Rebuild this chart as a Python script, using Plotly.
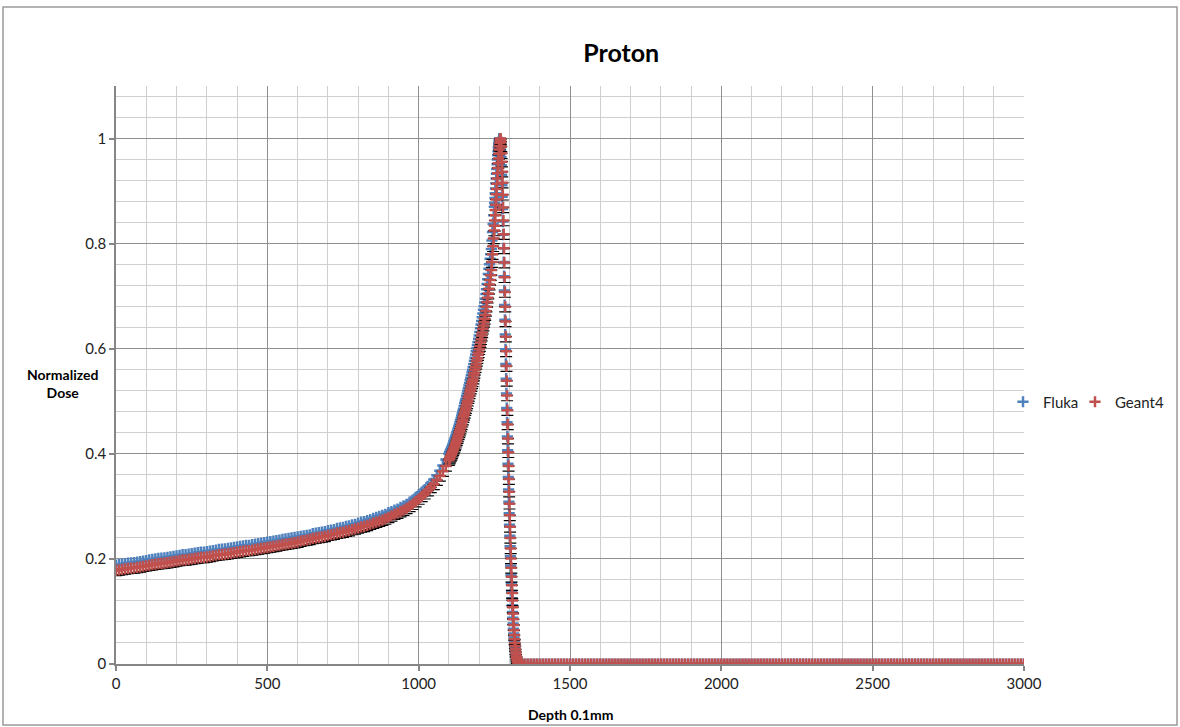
import plotly.graph_objects as go

# Depth sampling (units of 0.1 mm)
depth_rise = list(range(0, 1101, 10)) + list(range(1102, 1251, 2))
depth_peak = list(range(1251, 1331))
depth_tail = list(range(1340, 3001, 10))

# Normalized dose, Fluka
fluka_rise = [
    0.188, 0.189, 0.190, 0.191, 0.192, 0.1925, 0.193, 0.194, 0.195, 0.196,
    0.197, 0.198, 0.199, 0.200, 0.201, 0.2015, 0.202, 0.203, 0.204, 0.205,
    0.206, 0.207, 0.208, 0.208, 0.209, 0.210, 0.211, 0.212, 0.213, 0.213,
    0.214, 0.215, 0.216, 0.217, 0.218, 0.2185, 0.219, 0.220, 0.221, 0.222,
    0.223, 0.224, 0.225, 0.226, 0.226, 0.227, 0.228, 0.229, 0.230, 0.231,
    0.232, 0.233, 0.234, 0.235, 0.236, 0.237, 0.238, 0.239, 0.240, 0.241,
    0.242, 0.243, 0.244, 0.245, 0.246, 0.248, 0.249, 0.250, 0.251, 0.252,
    0.254, 0.255, 0.256, 0.258, 0.259, 0.260, 0.262, 0.263, 0.265, 0.266,
    0.268, 0.270, 0.271, 0.273, 0.275, 0.277, 0.279, 0.281, 0.283, 0.285,
    0.288, 0.290, 0.293, 0.295, 0.298, 0.301, 0.304, 0.308, 0.312, 0.317,
    0.322, 0.327, 0.332, 0.338, 0.344, 0.351, 0.359, 0.368, 0.378, 0.389,
    0.400,
    0.403, 0.406, 0.408, 0.411, 0.414, 0.417, 0.420, 0.424, 0.427, 0.430,
    0.434, 0.437, 0.441, 0.444, 0.448, 0.452, 0.456, 0.460, 0.464, 0.468,
    0.473, 0.477, 0.482, 0.486, 0.491,
    0.496, 0.501, 0.505, 0.510, 0.515, 0.520, 0.525, 0.530, 0.535, 0.540,
    0.545, 0.550, 0.555, 0.560, 0.565, 0.571, 0.577, 0.583, 0.589, 0.595,
    0.601, 0.607, 0.613, 0.619, 0.625, 0.632, 0.639, 0.646, 0.653, 0.660,
    0.667, 0.674, 0.681, 0.688, 0.695, 0.704, 0.713, 0.723, 0.732, 0.742,
    0.752, 0.761, 0.771, 0.780, 0.790, 0.806, 0.822, 0.838, 0.854, 0.870,
]
fluka_peak = [
    0.878, 0.887, 0.896, 0.905, 0.915, 0.924, 0.933, 0.942, 0.951, 0.960,
    0.968, 0.976, 0.983, 0.989, 0.994, 0.998, 1.000, 0.999, 0.995, 0.988,
    0.978, 0.965, 0.949, 0.931, 0.911, 0.889, 0.866, 0.842, 0.817, 0.791,
    0.765, 0.738, 0.711, 0.683, 0.655, 0.627, 0.599, 0.571, 0.543, 0.515,
    0.487, 0.460, 0.433, 0.407, 0.381, 0.356, 0.332, 0.309, 0.287, 0.265,
    0.244, 0.224, 0.205, 0.187, 0.170, 0.154, 0.139, 0.125, 0.112, 0.099,
    0.088, 0.077, 0.067, 0.058, 0.050, 0.043, 0.036, 0.030, 0.025, 0.020,
    0.016, 0.013, 0.010, 0.008, 0.006, 0.004, 0.003, 0.002, 0.001, 0.001,
]

# Normalized dose, Geant4
geant4_rise = [
    0.178, 0.179, 0.180, 0.181, 0.182, 0.1825, 0.183, 0.184, 0.185, 0.186,
    0.187, 0.188, 0.189, 0.190, 0.191, 0.1915, 0.192, 0.193, 0.194, 0.195,
    0.196, 0.197, 0.198, 0.198, 0.199, 0.200, 0.201, 0.202, 0.203, 0.203,
    0.204, 0.205, 0.206, 0.207, 0.208, 0.2085, 0.209, 0.210, 0.211, 0.212,
    0.213, 0.214, 0.215, 0.216, 0.216, 0.217, 0.218, 0.219, 0.220, 0.221,
    0.222, 0.223, 0.224, 0.225, 0.226, 0.227, 0.228, 0.229, 0.230, 0.231,
    0.232, 0.234, 0.235, 0.236, 0.237, 0.239, 0.240, 0.241, 0.242, 0.243,
    0.245, 0.246, 0.247, 0.249, 0.250, 0.251, 0.253, 0.254, 0.256, 0.257,
    0.259, 0.261, 0.262, 0.264, 0.266, 0.268, 0.270, 0.272, 0.274, 0.276,
    0.279, 0.282, 0.285, 0.287, 0.290, 0.293, 0.296, 0.300, 0.304, 0.309,
    0.314, 0.319, 0.324, 0.330, 0.336, 0.342, 0.350, 0.358, 0.367, 0.377,
    0.388,
    0.391, 0.393, 0.396, 0.398, 0.401, 0.404, 0.407, 0.410, 0.413, 0.416,
    0.419, 0.423, 0.426, 0.430, 0.433, 0.437, 0.441, 0.444, 0.448, 0.452,
    0.456, 0.461, 0.465, 0.470, 0.474,
    0.478, 0.483, 0.487, 0.492, 0.496, 0.501, 0.506, 0.510, 0.515, 0.520,
    0.524, 0.529, 0.534, 0.538, 0.543, 0.549, 0.554, 0.560, 0.565, 0.571,
    0.577, 0.582, 0.588, 0.593, 0.599, 0.605, 0.612, 0.618, 0.625, 0.631,
    0.638, 0.644, 0.651, 0.657, 0.664, 0.672, 0.680, 0.689, 0.697, 0.705,
    0.714, 0.722, 0.731, 0.740, 0.750, 0.765, 0.780, 0.795, 0.810, 0.825,
]
geant4_peak = [
    0.834, 0.844, 0.854, 0.864, 0.874, 0.884, 0.894, 0.904, 0.914, 0.924,
    0.934, 0.944, 0.953, 0.962, 0.971, 0.979, 0.986, 0.992, 0.997, 1.000,
    0.999, 0.994, 0.985, 0.972, 0.956, 0.937, 0.916, 0.893, 0.869, 0.844,
    0.818, 0.791, 0.764, 0.736, 0.708, 0.680, 0.652, 0.623, 0.595, 0.567,
    0.539, 0.511, 0.483, 0.456, 0.429, 0.403, 0.377, 0.352, 0.328, 0.305,
    0.283, 0.261, 0.240, 0.220, 0.201, 0.183, 0.166, 0.150, 0.135, 0.121,
    0.108, 0.096, 0.085, 0.074, 0.064, 0.055, 0.047, 0.040, 0.034, 0.028,
    0.023, 0.018, 0.014, 0.011, 0.008, 0.006, 0.004, 0.003, 0.002, 0.001,
]

# Beyond the distal edge both codes give zero dose
tail_dose = [
    0, 0, 0, 0, 0, 0, 0, 0, 0, 0, 0, 0, 0, 0, 0, 0, 0, 0, 0, 0,
    0, 0, 0, 0, 0, 0, 0, 0, 0, 0, 0, 0, 0, 0, 0, 0, 0, 0, 0, 0,
    0, 0, 0, 0, 0, 0, 0, 0, 0, 0, 0, 0, 0, 0, 0, 0, 0, 0, 0, 0,
    0, 0, 0, 0, 0, 0, 0, 0, 0, 0, 0, 0, 0, 0, 0, 0, 0, 0, 0, 0,
    0, 0, 0, 0, 0, 0, 0, 0, 0, 0, 0, 0, 0, 0, 0, 0, 0, 0, 0, 0,
    0, 0, 0, 0, 0, 0, 0, 0, 0, 0, 0, 0, 0, 0, 0, 0, 0, 0, 0, 0,
    0, 0, 0, 0, 0, 0, 0, 0, 0, 0, 0, 0, 0, 0, 0, 0, 0, 0, 0, 0,
    0, 0, 0, 0, 0, 0, 0, 0, 0, 0, 0, 0, 0, 0, 0, 0, 0, 0, 0, 0,
    0, 0, 0, 0, 0, 0, 0,
]

# Lower uncertainty bar on the Geant4 points
geant4_err_minus = 0.01

depth = depth_rise + depth_peak + depth_tail
fluka = fluka_rise + fluka_peak + tail_dose
geant4 = geant4_rise + geant4_peak + tail_dose

W, H = 1180, 727
L, R, T, B = 116, 156, 86, 63
PW, PH = W - L - R, H - T - B


def px(xp):
    return (xp - L) / PW


def py(yp):
    return (H - B - yp) / PH


FONT = "Lato, 'Open Sans', sans-serif"

fig = go.Figure()

fig.add_trace(go.Scatter(
    x=depth, y=fluka, mode="markers", name="Fluka",
    marker=dict(symbol="cross-thin", size=8, color="#4f81bd",
                line=dict(color="#4f81bd", width=2.5)),
    legend="legend",
))
fig.add_trace(go.Scatter(
    x=depth, y=geant4, mode="markers", name="Geant4",
    marker=dict(symbol="cross-thin", size=8, color="#c0504d",
                line=dict(color="#c0504d", width=2.5)),
    error_y=dict(type="constant", symmetric=False, value=0,
                 valueminus=geant4_err_minus, color="black",
                 thickness=1.2, width=6),
    legend="legend2",
))

axis_common = dict(
    showline=True, linecolor="#868686", linewidth=1.5,
    ticks="outside", ticklen=5, tickcolor="#868686", tickwidth=1.5,
    gridcolor="#8f8f8f", gridwidth=1.2,
    zeroline=False,
    tickfont=dict(family=FONT, size=15, color="#222222"),
)

fig.update_xaxes(
    range=[0, 3000], dtick=500, tick0=0,
    minor=dict(dtick=100, showgrid=True, gridcolor="#cfcfcf", gridwidth=1.2,
               ticks=""),
    **axis_common,
)
fig.update_yaxes(
    range=[0, 1.1], dtick=0.2, tick0=0,
    minor=dict(dtick=0.04, showgrid=True, gridcolor="#cfcfcf", gridwidth=1.2,
               ticks=""),
    **axis_common,
)

legend_common = dict(
    y=py(402), yanchor="middle", xanchor="left",
    font=dict(family=FONT, size=15, color="#222222"),
    bgcolor="rgba(0,0,0,0)", itemwidth=30, borderwidth=0,
)

fig.update_layout(
    width=W, height=H,
    margin=dict(l=L, r=R, t=T, b=B, autoexpand=False),
    paper_bgcolor="white", plot_bgcolor="white",
    title=dict(text="<b>Proton</b>", x=px(594), xanchor="center",
               y=1 - 53 / H, yanchor="middle",
               font=dict(family=FONT, size=25, color="black")),
    showlegend=True,
    legend=dict(x=px(1003), **legend_common),
    legend2=dict(x=px(1075), **legend_common),
    shapes=[dict(type="rect", xref="paper", yref="paper",
                 x0=px(3), x1=px(1177), y0=py(725), y1=py(7),
                 line=dict(color="#9a9a9a", width=1.5))],
    annotations=[
        dict(text="<b>Normalized<br>Dose</b>", xref="paper", yref="paper",
             x=px(62), y=py(383), xanchor="center", yanchor="middle",
             showarrow=False, align="center",
             font=dict(family=FONT, size=14, color="black")),
        dict(text="<b>Depth 0.1mm</b>", xref="paper", yref="paper",
             x=px(570), y=py(714), xanchor="center", yanchor="middle",
             showarrow=False,
             font=dict(family=FONT, size=14, color="black")),
    ],
)

fig.write_html("out.html")
